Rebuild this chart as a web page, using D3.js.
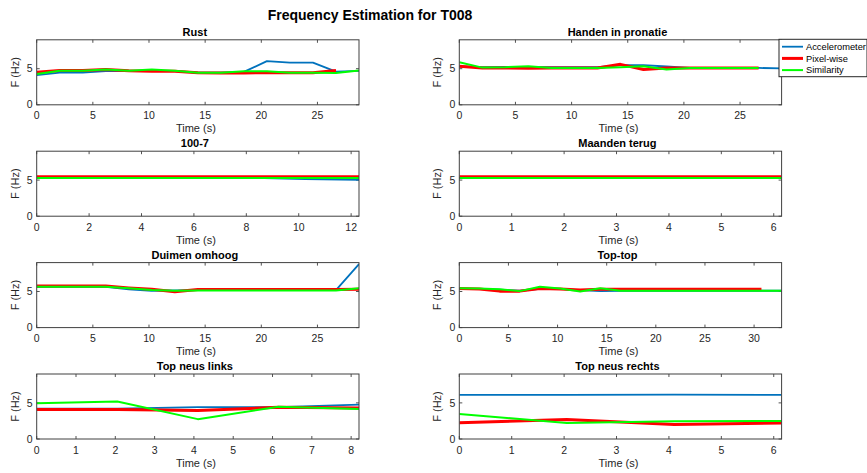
<!DOCTYPE html>
<html>
<head>
<meta charset="utf-8">
<script src="https://cdn.jsdelivr.net/npm/d3@7"></script>
<style>
  body { margin: 0; background: white; }
  text { font-family: "Liberation Sans", Arial, sans-serif; fill: #262626; }
</style>
</head>
<body>
<div id="chart"></div>
<script>
// time stamps (s)
var t4 = [0, 2.05, 4.1, 6.15];
var t5 = [0, 2.05, 4.1, 6.15, 8.2];
var t7 = [0, 2.05, 4.1, 6.15, 8.2, 10.25, 12.3];
var t14 = [0, 2.05, 4.1, 6.15, 8.2, 10.25, 12.3, 14.35, 16.4, 18.45, 20.5, 22.55, 24.6, 26.65];
var t15 = [0, 2.05, 4.1, 6.15, 8.2, 10.25, 12.3, 14.35, 16.4, 18.45, 20.5, 22.55, 24.6, 26.65, 28.7];
var t16 = [0, 2.05, 4.1, 6.15, 8.2, 10.25, 12.3, 14.35, 16.4, 18.45, 20.5, 22.55, 24.6, 26.65, 28.7, 30.75];
var t17 = [0, 2.05, 4.1, 6.15, 8.2, 10.25, 12.3, 14.35, 16.4, 18.45, 20.5, 22.55, 24.6, 26.65, 28.7, 30.75, 32.8];

var seriesNames = ["Accelerometer", "Pixel-wise", "Similarity"];
var titles = ["Rust", "Handen in pronatie", "100-7", "Maanden terug",
              "Duimen omhoog", "Top-top", "Top neus links", "Top neus rechts"];
var xMax = [28.7, 28.7, 12.3, 6.15, 28.7, 32.8, 8.2, 6.15];
var xTickStep = [5, 5, 2, 1, 5, 5, 1, 1];
var yTicks = [0, 5];

// F (Hz) per subplot: accelerometer, pixel-wise, similarity
var rustAcc = [4.1, 4.45, 4.45, 4.65, 4.65, 4.65, 4.65, 4.45, 4.45, 4.55, 6.05, 5.85, 5.85, 4.6, 4.7];
var rustPix = [4.5, 4.75, 4.75, 4.9, 4.7, 4.65, 4.65, 4.45, 4.4, 4.4, 4.45, 4.45, 4.45, 4.75];
var rustSim = [4.25, 4.7, 4.7, 4.9, 4.7, 4.9, 4.7, 4.45, 4.45, 4.65, 4.65, 4.45, 4.45, 4.4, 4.75];

var handenAcc = [5.3, 5.2, 5.25, 5.25, 5.2, 5.2, 5.2, 5.5, 5.5, 5.3, 5.1, 5.1, 5.1, 5.1, 5.05];
var handenPix = [5.35, 5.1, 5.1, 5.05, 5.1, 5.1, 5.1, 5.6, 4.9, 5.1, 5.1, 5.1, 5.1, 5.1];
var handenSim = [5.9, 5.15, 5.2, 5.35, 5.1, 5.1, 5.1, 5.2, 5.35, 4.9, 5.1, 5.1, 5.1, 5.1];

var hondAcc = [5.3, 5.3, 5.3, 5.3, 5.3, 5.15, 5.05];
var hondPix = [5.45, 5.45, 5.45, 5.45, 5.45, 5.45, 5.45];
var hondSim = [5.3, 5.3, 5.3, 5.3, 5.3, 5.3, 5.3];

var maandAcc = [5.28, 5.28, 5.28, 5.28];
var maandPix = [5.45, 5.45, 5.45, 5.45];
var maandSim = [5.3, 5.3, 5.3, 5.3];

var duimAcc = [5.65, 5.65, 5.65, 5.65, 5.3, 5.1, 5.15, 5.2, 5.2, 5.2, 5.2, 5.2, 5.2, 5.2, 8.8];
var duimPix = [5.75, 5.75, 5.75, 5.75, 5.5, 5.3, 4.95, 5.28, 5.28, 5.28, 5.28, 5.28, 5.28, 5.28, 5.3];
var duimSim = [5.65, 5.65, 5.65, 5.65, 5.45, 5.2, 5.1, 5.15, 5.15, 5.15, 5.15, 5.15, 5.15, 5.15, 5.45];

var topAcc = [5.35, 5.35, 5.25, 5.1, 5.35, 5.35, 5.2, 5.05, 5.1, 5.1, 5.1, 5.1, 5.1, 5.1, 5.1, 5.1, 5.1];
var topPix = [5.4, 5.35, 5.05, 5.05, 5.4, 5.35, 5.2, 5.3, 5.3, 5.3, 5.3, 5.3, 5.3, 5.3, 5.3, 5.3];
var topSim = [5.45, 5.4, 5.3, 5.05, 5.65, 5.4, 5.0, 5.45, 5.1, 5.1, 5.1, 5.1, 5.1, 5.1, 5.1, 5.1, 5.1];

var linksAcc = [4.2, 4.2, 4.4, 4.4, 4.75];
var linksPix = [4.1, 4.1, 3.95, 4.4, 4.3];
var linksSim = [4.95, 5.2, 2.75, 4.45, 4.15];

var rechtsAcc = [6.1, 6.1, 6.15, 6.1];
var rechtsPix = [2.25, 2.7, 2.0, 2.2];
var rechtsSim = [3.47, 2.22, 2.45, 2.5];

var panels = [
  { t: [t15, t14, t15], f: [rustAcc, rustPix, rustSim] },
  { t: [t15, t14, t14], f: [handenAcc, handenPix, handenSim] },
  { t: [t7, t7, t7], f: [hondAcc, hondPix, hondSim] },
  { t: [t4, t4, t4], f: [maandAcc, maandPix, maandSim] },
  { t: [t15, t15, t15], f: [duimAcc, duimPix, duimSim] },
  { t: [t17, t16, t17], f: [topAcc, topPix, topSim] },
  { t: [t5, t5, t5], f: [linksAcc, linksPix, linksSim] },
  { t: [t4, t4, t4], f: [rechtsAcc, rechtsPix, rechtsSim] }
];

var colors = ["#0072BD", "#FF0000", "#00FF00"];
var widths = [1.8, 3, 2];

var W = 867, H = 473;
var colX = [36.7, 459.3], plotW = 322.3;
var rowTop = 39.8, rowStep = 111.4, plotH = 65;

var svg = d3.select("#chart")
    .append("svg")
    .attr("width", W)
    .attr("height", H);

svg.append("rect")
    .attr("width", W)
    .attr("height", H)
    .attr("fill", "white");

svg.append("text")
    .attr("x", 370)
    .attr("y", 19.8)
    .attr("text-anchor", "middle")
    .style("font-size", "14px")
    .style("font-weight", "bold")
    .style("fill", "black")
    .text("Frequency Estimation for T008");

panels.forEach(function(p, i) {
  var col = i % 2, row = Math.floor(i / 2);
  var left = colX[col], top = rowTop + row * rowStep;

  var x = d3.scaleLinear().domain([0, xMax[i]]).range([0, plotW]);
  var y = d3.scaleLinear().domain([0, 9]).range([plotH, 0]);

  var g = svg.append("g")
      .attr("transform", "translate(" + left + "," + top + ")");

  g.append("clipPath")
      .attr("id", "clip" + i)
      .append("rect")
      .attr("width", plotW)
      .attr("height", plotH);

  var xt = d3.range(0, xMax[i] + 1e-9, xTickStep[i]);

  // tick marks inside the box, all four sides
  g.selectAll(".xtb").data(xt).enter().append("line")
      .attr("x1", x).attr("x2", x)
      .attr("y1", plotH).attr("y2", plotH - 3)
      .attr("stroke", "#262626").attr("stroke-width", 0.8);
  g.selectAll(".xtt").data(xt).enter().append("line")
      .attr("x1", x).attr("x2", x)
      .attr("y1", 0).attr("y2", 3)
      .attr("stroke", "#262626").attr("stroke-width", 0.8);
  g.selectAll(".ytl").data(yTicks).enter().append("line")
      .attr("x1", 0).attr("x2", 3)
      .attr("y1", y).attr("y2", y)
      .attr("stroke", "#262626").attr("stroke-width", 0.8);
  g.selectAll(".ytr").data(yTicks).enter().append("line")
      .attr("x1", plotW).attr("x2", plotW - 3)
      .attr("y1", y).attr("y2", y)
      .attr("stroke", "#262626").attr("stroke-width", 0.8);

  g.selectAll(".xl").data(xt).enter().append("text")
      .attr("x", x)
      .attr("y", plotH + 14.5)
      .attr("text-anchor", "middle")
      .style("font-size", "10.5px")
      .text(function(d) { return d; });

  g.selectAll(".yl").data(yTicks).enter().append("text")
      .attr("x", -4)
      .attr("y", function(d) { return y(d) + 3.7; })
      .attr("text-anchor", "end")
      .style("font-size", "10.5px")
      .text(function(d) { return d; });

  var line = d3.line()
      .x(function(d) { return x(d[0]); })
      .y(function(d) { return y(d[1]); });

  p.f.forEach(function(vals, s) {
    var pts = vals.map(function(v, k) { return [p.t[s][k], v]; });
    g.append("path")
        .attr("d", line(pts))
        .attr("clip-path", "url(#clip" + i + ")")
        .attr("fill", "none")
        .attr("stroke", colors[s])
        .attr("stroke-width", widths[s])
        .attr("stroke-linejoin", "round");
  });

  g.append("rect")
      .attr("width", plotW)
      .attr("height", plotH)
      .attr("fill", "none")
      .attr("stroke", "#404040")
      .attr("stroke-width", 1);

  g.append("text")
      .attr("x", plotW / 2 - 3)
      .attr("y", -4)
      .attr("text-anchor", "middle")
      .style("font-size", "11px")
      .style("font-weight", "bold")
      .style("fill", "black")
      .text(titles[i]);

  g.append("text")
      .attr("x", plotW / 2 - 2)
      .attr("y", plotH + 27.5)
      .attr("text-anchor", "middle")
      .style("font-size", "11px")
      .text("Time (s)");

  g.append("text")
      .attr("transform", "translate(" + (-18) + "," + (plotH / 2) + ") rotate(-90)")
      .attr("text-anchor", "middle")
      .style("font-size", "11px")
      .text("F (Hz)");
});

// legend
var lg = svg.append("g").attr("transform", "translate(779,39.3)");
lg.append("rect")
    .attr("width", 88)
    .attr("height", 37.4)
    .attr("fill", "white")
    .attr("stroke", "#262626")
    .attr("stroke-width", 1);
seriesNames.forEach(function(n, s) {
  var yy = 7.4 + s * 11.7;
  lg.append("line")
      .attr("x1", 3).attr("x2", 24)
      .attr("y1", yy).attr("y2", yy)
      .attr("stroke", colors[s])
      .attr("stroke-width", widths[s]);
  lg.append("text")
      .attr("x", 27)
      .attr("y", yy + 3.2)
      .style("font-size", "9.3px")
      .style("fill", "black")
      .text(n);
});
</script>
</body>
</html>
